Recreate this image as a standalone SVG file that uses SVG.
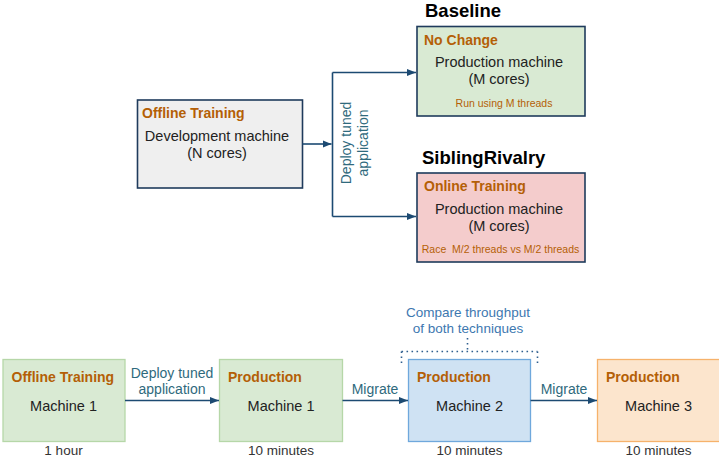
<svg xmlns="http://www.w3.org/2000/svg" width="719" height="457" viewBox="0 0 719 457">
  <defs>
    <marker id="arrow" viewBox="0 0 10 10" refX="10" refY="5" markerWidth="9" markerHeight="9" markerUnits="userSpaceOnUse" orient="auto">
      <path d="M0,1 L10,5 L0,9 z" fill="#1c4a72"/>
    </marker>
    <style>
      text { font-family: "Liberation Sans", Arial, sans-serif; }
      .tag { fill: #b45f06; font-weight: bold; font-size: 14px; }
      .body { fill: #222; font-size: 14.5px; text-anchor: middle; }
      .note { fill: #b45f06; font-size: 10.5px; }
      .title { fill: #000; font-weight: bold; font-size: 18.5px; }
      .lbl { fill: #2f6a7d; font-size: 14px; text-anchor: middle; }
      .time { fill: #333; font-size: 13.5px; text-anchor: middle; }
      .conn { stroke: #1c4a72; stroke-width: 1.6; fill: none; }
      .navy { stroke: #1f3b5c; stroke-width: 1.6; }
    </style>
  </defs>

  <!-- Top section: offline training deployed to two production setups -->
  <g id="offline-dev">
    <rect x="137.5" y="100" width="165" height="88" fill="#efefef" class="navy"/>
    <text x="142" y="118" class="tag">Offline Training</text>
    <text x="217" y="141" class="body">Development machine</text>
    <text x="217" y="158" class="body">(N cores)</text>
  </g>

  <g id="baseline">
    <text x="425" y="17" class="title">Baseline</text>
    <rect x="417" y="26.5" width="168" height="89.5" fill="#d9ead3" class="navy"/>
    <text x="424" y="45" class="tag">No Change</text>
    <text x="499" y="67" class="body">Production machine</text>
    <text x="499" y="84" class="body">(M cores)</text>
    <text x="504" y="107" class="note" text-anchor="middle">Run using M threads</text>
  </g>

  <g id="siblingrivalry">
    <text x="422" y="164" class="title">SiblingRivalry</text>
    <rect x="417" y="173" width="168" height="89" fill="#f4cccc" class="navy"/>
    <text x="424" y="191" class="tag">Online Training</text>
    <text x="499" y="214" class="body">Production machine</text>
    <text x="499" y="231" class="body">(M cores)</text>
    <text x="500.5" y="253" class="note" font-size="10.3" text-anchor="middle" xml:space="preserve">Race  M/2 threads vs M/2 threads</text>
  </g>

  <!-- Bottom section: timeline of machines -->
  <g id="bottom-offline">
    <rect x="3" y="359.5" width="122" height="82" fill="#d9ead3" stroke="#b6d7a8" stroke-width="1.3"/>
    <text x="11.5" y="382" class="tag" font-size="13.5">Offline Training</text>
    <text x="63.5" y="411" class="body" font-size="14">Machine 1</text>
    <text x="63.5" y="455" class="time">1 hour</text>
  </g>

  <g id="bottom-prod1">
    <rect x="219.5" y="359.5" width="123" height="82" fill="#d9ead3" stroke="#b6d7a8" stroke-width="1.3"/>
    <text x="228" y="382" class="tag" font-size="13.5">Production</text>
    <text x="281" y="411" class="body" font-size="14">Machine 1</text>
    <text x="281" y="455" class="time">10 minutes</text>
  </g>

  <g id="bottom-prod2">
    <rect x="408.5" y="359.5" width="122" height="82" fill="#cfe2f3" stroke="#6fa8dc" stroke-width="1.3"/>
    <text x="417" y="382" class="tag" font-size="13.5">Production</text>
    <text x="469.5" y="411" class="body" font-size="14">Machine 2</text>
    <text x="469.5" y="455" class="time">10 minutes</text>
  </g>

  <g id="bottom-prod3">
    <rect x="597.5" y="359.5" width="124" height="82" fill="#fce5cd" stroke="#f6b26b" stroke-width="1.3"/>
    <text x="606" y="382" class="tag" font-size="13.5">Production</text>
    <text x="658.5" y="411" class="body" font-size="14">Machine 3</text>
    <text x="658.5" y="455" class="time">10 minutes</text>
  </g>

  <g id="compare-note">
    <text x="468" y="317" font-size="13.5" fill="#3d78b0" text-anchor="middle">Compare throughput</text>
    <text x="468" y="333" font-size="13.5" fill="#3d78b0" text-anchor="middle">of both techniques</text>
    <path d="M467.5,338 V351.5 M401.5,351.5 H537.5 M401.5,351.5 V363 M537.5,351.5 V363" stroke="#2f5f8f" stroke-width="1.6" stroke-dasharray="1.6,3.4" fill="none"/>
  </g>

  <!-- Connectors -->
  <g id="connectors">
    <path d="M302.5,144 H331.5" class="conn" marker-end="url(#arrow)"/>
    <path d="M332.5,72.5 V216.5" class="conn"/>
    <path d="M332.5,72.5 H416" class="conn" marker-end="url(#arrow)"/>
    <path d="M332.5,216.5 H416" class="conn" marker-end="url(#arrow)"/>
    <text transform="translate(351,143) rotate(-90)" class="lbl">Deploy tuned</text>
    <text transform="translate(368,143) rotate(-90)" class="lbl">application</text>

    <path d="M125,400.5 H219" class="conn" marker-end="url(#arrow)"/>
    <text x="172" y="378" class="lbl">Deploy tuned</text>
    <text x="172" y="393.5" class="lbl">application</text>

    <path d="M342.5,400.5 H408" class="conn" marker-end="url(#arrow)"/>
    <text x="375" y="393.5" class="lbl">Migrate</text>

    <path d="M530.5,400.5 H597" class="conn" marker-end="url(#arrow)"/>
    <text x="564" y="393.5" class="lbl">Migrate</text>
  </g>
</svg>
